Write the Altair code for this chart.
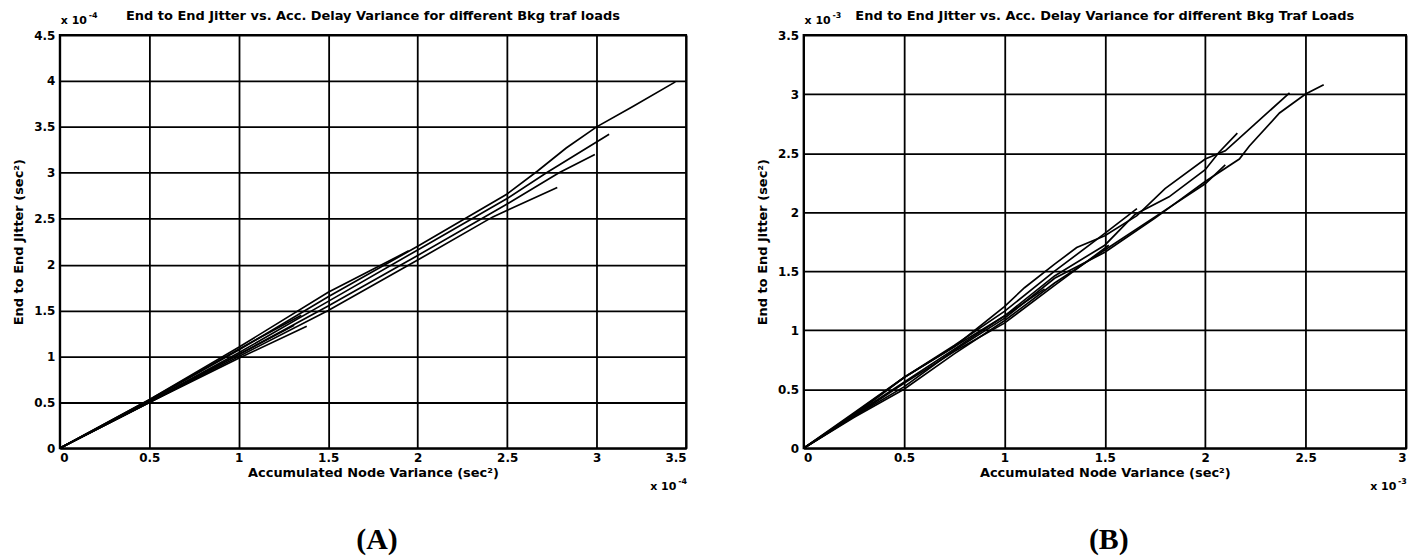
import altair as alt
import pandas as pd

TITLE_A = "End to End Jitter vs. Acc. Delay Variance for different Bkg traf loads"
TITLE_B = "End to End Jitter vs. Acc. Delay Variance for different Bkg Traf Loads"
X_TITLE = "Accumulated Node Variance (sec²)"
Y_TITLE = "End to End Jitter (sec²)"
PANEL_LABELS = ["(A)", "(B)"]
EXPONENTS = ["-4", "-3"]

A_TICKS_X = [0, 0.5, 1, 1.5, 2, 2.5, 3, 3.5]
A_TICKS_Y = [0, 0.5, 1, 1.5, 2, 2.5, 3, 3.5, 4, 4.5]
B_TICKS_X = [0, 0.5, 1, 1.5, 2, 2.5, 3]
B_TICKS_Y = [0, 0.5, 1, 1.5, 2, 2.5, 3, 3.5]

# Panel A runs (values in units of 1e-4)
A_LINES_X = [
    [0, 0.5, 1.0, 1.5, 2.0, 2.5, 2.67, 2.83, 3.0, 3.2, 3.44],
    [0, 0.5, 1.0, 1.5, 2.0, 2.5, 2.72, 3.07],
    [0, 0.5, 1.0, 1.5, 2.0, 2.5, 2.79, 2.99],
    [0, 0.5, 1.0, 1.5, 2.0, 2.42, 2.51, 2.78],
    [0, 0.5, 1.0, 1.5, 1.95],
    [0, 0.5, 1.0, 1.38],
    [0, 0.5, 1.0, 1.31],
    [0, 0.5, 1.0, 1.35],
]
A_LINES_Y = [
    [0, 0.52, 1.07, 1.65, 2.2, 2.77, 3.02, 3.27, 3.5, 3.72, 3.99],
    [0, 0.51, 1.04, 1.6, 2.16, 2.72, 3.0, 3.42],
    [0, 0.5, 1.02, 1.55, 2.1, 2.66, 3.0, 3.2],
    [0, 0.5, 1.0, 1.5, 2.05, 2.52, 2.6, 2.84],
    [0, 0.53, 1.1, 1.7, 2.15],
    [0, 0.5, 0.98, 1.33],
    [0, 0.51, 1.02, 1.34],
    [0, 0.53, 1.08, 1.45],
]

# Panel B runs (values in units of 1e-3)
B_LINES_X = [
    [0, 0.25, 0.5, 0.75, 1.0, 1.25, 1.5, 1.75, 2.0, 2.17, 2.22, 2.37, 2.5, 2.59],
    [0, 0.25, 0.5, 0.75, 1.0, 1.1, 1.25, 1.36, 1.5, 1.66, 1.8, 2.0, 2.1, 2.25, 2.42],
    [0, 0.25, 0.5, 0.75, 1.0, 1.25, 1.5, 1.65, 1.82, 2.0, 2.07, 2.16],
    [0, 0.25, 0.5, 0.75, 1.0, 1.25, 1.5, 1.75, 2.0, 2.1],
    [0, 0.25, 0.5, 0.75, 1.0, 1.25, 1.5, 1.66],
    [0, 0.25, 0.5, 0.75, 1.0, 1.25, 1.52],
    [0, 0.25, 0.5, 0.75, 1.0, 1.2],
]
B_LINES_Y = [
    [0, 0.27, 0.52, 0.83, 1.1, 1.44, 1.66, 1.95, 2.26, 2.45, 2.56, 2.84, 3.0, 3.08],
    [0, 0.3, 0.6, 0.86, 1.2, 1.36, 1.56, 1.7, 1.8, 1.97, 2.2, 2.45, 2.52, 2.75, 3.01],
    [0, 0.28, 0.56, 0.84, 1.12, 1.46, 1.72, 1.98, 2.13, 2.36, 2.51, 2.67],
    [0, 0.26, 0.5, 0.8, 1.08, 1.4, 1.68, 1.96, 2.24, 2.4],
    [0, 0.29, 0.6, 0.87, 1.16, 1.5, 1.82, 2.03],
    [0, 0.27, 0.55, 0.82, 1.06, 1.38, 1.72],
    [0, 0.28, 0.6, 0.86, 1.12, 1.35],
]

FONT = "DejaVu Sans"
H = 415


def frame(xs, ys):
    rows = []
    for i, (lx, ly) in enumerate(zip(xs, ys)):
        for j, (x, y) in enumerate(zip(lx, ly)):
            rows.append({"run": i, "k": j, "x": x, "y": y})
    return pd.DataFrame(rows)


def txt(s, x, y, size=12, weight="bold", font=FONT, align="left", baseline="alphabetic"):
    return alt.Chart(pd.DataFrame({"t": [s]})).mark_text(
        font=font, fontSize=size, fontWeight=weight, color="black",
        align=align, baseline=baseline,
    ).encode(x=alt.value(x), y=alt.value(y), text="t:N")


def panel(xs, ys, xt, yt, title, width, label, exp):
    df = frame(xs, ys)
    lines = alt.Chart(df).mark_line(color="black", strokeWidth=1.7).encode(
        x=alt.X("x:Q", scale=alt.Scale(domain=[xt[0], xt[-1]], nice=False, zero=False),
                axis=alt.Axis(values=xt, format="~g", title=X_TITLE,
                              labelPadding=4, titlePadding=3)),
        y=alt.Y("y:Q", scale=alt.Scale(domain=[yt[0], yt[-1]], nice=False, zero=False),
                axis=alt.Axis(values=yt, format="~g", title=Y_TITLE,
                              labelPadding=5, titlePadding=8)),
        detail="run:N",
        order="k:Q",
    )
    layers = [
        lines,
        txt(title, width / 2, -15, size=13, align="center"),
        txt("x 10", 1, -11, size=11),
        txt(exp, 29, -17, size=8),
        txt("x 10", width - 36, H + 42, size=11),
        txt(exp, width - 8, H + 36, size=8),
        txt(label, width / 2 + 4, H + 101, size=30, font="Liberation Serif", align="center"),
    ]
    return alt.layer(*layers).properties(width=width, height=H)


pA = panel(A_LINES_X, A_LINES_Y, A_TICKS_X, A_TICKS_Y, TITLE_A, 629,
           PANEL_LABELS[0], EXPONENTS[0])
pB = panel(B_LINES_X, B_LINES_Y, B_TICKS_X, B_TICKS_Y, TITLE_B, 605,
           PANEL_LABELS[1], EXPONENTS[1])

chart = alt.hconcat(pA, pB, spacing=67).properties(
    padding={"left": 3, "top": 0, "right": 3, "bottom": 0}
).configure_view(
    stroke="black", strokeWidth=2
).configure_axis(
    grid=True, gridColor="black", gridOpacity=1, gridWidth=1.8,
    domain=False, ticks=False,
    labelFont=FONT, labelFontSize=12, labelFontWeight="bold", labelColor="black",
    titleFont=FONT, titleFontSize=13, titleFontWeight="bold", titleColor="black",
)

chart.save("out.html", embed_options={"renderer": "svg", "actions": False})
